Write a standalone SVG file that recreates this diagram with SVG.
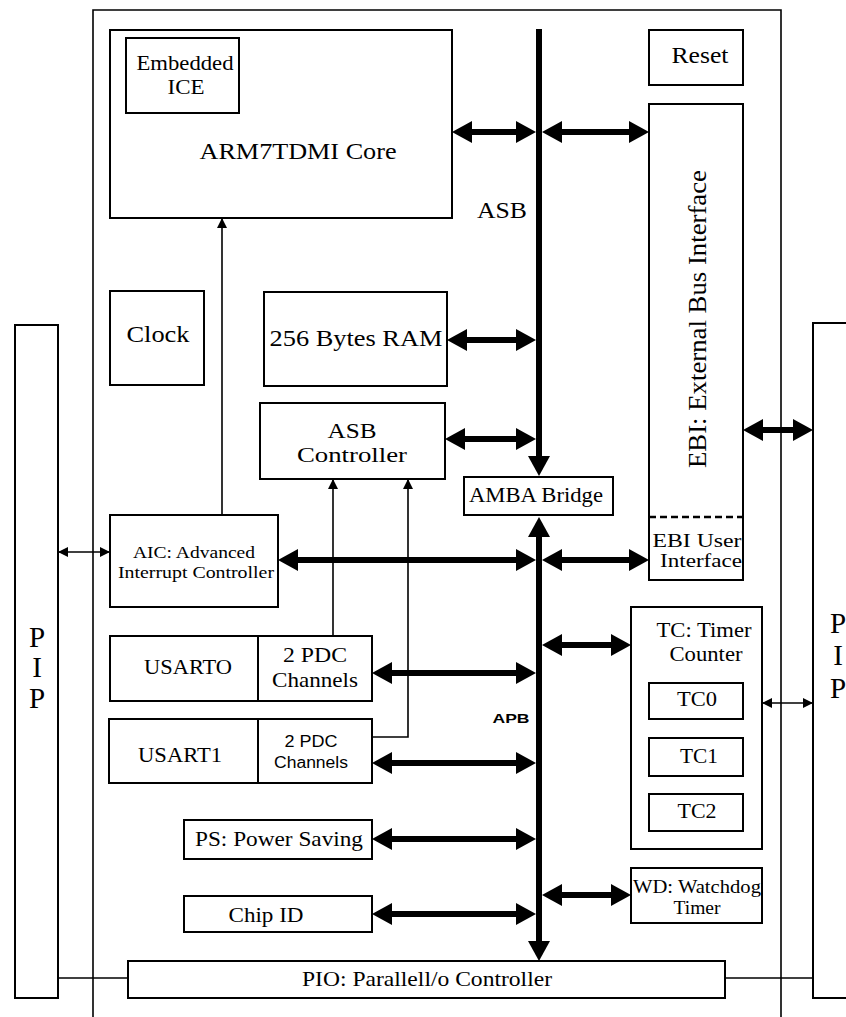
<svg xmlns="http://www.w3.org/2000/svg" width="846" height="1017" viewBox="0 0 846 1017">
<defs>
<style>
.box{fill:#fff;stroke:#000;stroke-width:2}
.t{font-family:"Liberation Serif","Times New Roman",serif;fill:#000;text-anchor:middle}
.s{font-family:"Liberation Sans",Arial,sans-serif;fill:#000;text-anchor:middle}
.thick{stroke:#000;stroke-width:6;fill:none;marker-start:url(#ah);marker-end:url(#ah)}
.bus{stroke:#000;stroke-width:6;fill:none}
.thin{stroke:#000;stroke-width:1.6;fill:none}
</style>
<marker id="ah" markerUnits="userSpaceOnUse" markerWidth="20" markerHeight="22" viewBox="0 0 20 22" refX="8" refY="11" orient="auto-start-reverse">
<path d="M0,0 L20,11 L0,22 z" fill="#000"/>
</marker>
<marker id="sa" markerUnits="userSpaceOnUse" markerWidth="10" markerHeight="10" viewBox="0 0 10 10" refX="9" refY="5" orient="auto-start-reverse">
<path d="M0,0 L10,5 L0,10 z" fill="#000"/>
</marker>
</defs>
<rect width="846" height="1017" fill="#fff"/>

<g id="chip-boundary">
<path d="M93,1017 V10 H781 V1017" class="thin" stroke-width="2"/>
</g>

<g id="connectors">
<line x1="539" y1="29" x2="539" y2="464" class="bus" marker-end="url(#ah)"/>
<line x1="539" y1="529" x2="539" y2="949" class="bus" marker-start="url(#ah)" marker-end="url(#ah)"/>
<line x1="464" y1="132" x2="524" y2="132" class="thick"/>
<line x1="554" y1="132" x2="637" y2="132" class="thick"/>
<line x1="459" y1="340" x2="524" y2="340" class="thick"/>
<line x1="457" y1="439" x2="524" y2="439" class="thick"/>
<line x1="290" y1="560" x2="524" y2="560" class="thick"/>
<line x1="554" y1="560" x2="637" y2="560" class="thick"/>
<line x1="755" y1="430" x2="801" y2="430" class="thick"/>
<line x1="384" y1="673" x2="524" y2="673" class="thick"/>
<line x1="554" y1="645" x2="619" y2="645" class="thick"/>
<line x1="384" y1="763" x2="524" y2="763" class="thick"/>
<line x1="384" y1="839" x2="524" y2="839" class="thick"/>
<line x1="554" y1="895" x2="619" y2="895" class="thick"/>
<line x1="384" y1="914" x2="524" y2="914" class="thick"/>
<line x1="222" y1="515" x2="222" y2="219" class="thin" marker-end="url(#sa)"/>
<line x1="333" y1="635" x2="333" y2="480" class="thin" marker-end="url(#sa)"/>
<polyline points="373,737 408,737 408,480" class="thin" marker-end="url(#sa)"/>
<line x1="59" y1="552" x2="109" y2="552" class="thin" marker-start="url(#sa)" marker-end="url(#sa)"/>
<line x1="763" y1="703" x2="812" y2="703" class="thin" marker-start="url(#sa)" marker-end="url(#sa)"/>
<line x1="58" y1="978" x2="128" y2="978" class="thin"/>
<line x1="725" y1="978" x2="813" y2="978" class="thin"/>
</g>

<g id="arm-core">
<rect x="110" y="30" width="342" height="188" class="box"/>
<text x="298" y="159" class="t" font-size="24" textLength="197" lengthAdjust="spacingAndGlyphs">ARM7TDMI Core</text>
</g>
<g id="embedded-ice">
<rect x="126" y="38" width="113" height="75" class="box"/>
<text x="185" y="70" class="t" font-size="20" textLength="97" lengthAdjust="spacingAndGlyphs">Embedded</text>
<text x="186" y="94" class="t" font-size="20" textLength="37" lengthAdjust="spacingAndGlyphs">ICE</text>
</g>
<g id="asb-label"><text x="502" y="218" class="t" font-size="23" textLength="50" lengthAdjust="spacingAndGlyphs">ASB</text></g>
<g id="reset">
<rect x="649" y="30" width="94" height="55" class="box"/>
<text x="700" y="63" class="t" font-size="23" textLength="57" lengthAdjust="spacingAndGlyphs">Reset</text>
</g>
<g id="ebi">
<rect x="649" y="104" width="94" height="476" class="box"/>
<line x1="649" y1="517" x2="743" y2="517" stroke="#000" stroke-width="2.5" stroke-dasharray="7,4"/>
<text x="706" y="319" class="t" font-size="25" textLength="298" lengthAdjust="spacingAndGlyphs" transform="rotate(-90 706 319)">EBI: External Bus Interface</text>
<text x="697" y="547" class="t" font-size="19" textLength="89" lengthAdjust="spacingAndGlyphs">EBI User</text>
<text x="701" y="567" class="t" font-size="19" textLength="82" lengthAdjust="spacingAndGlyphs">Interface</text>
</g>
<g id="clock">
<rect x="110" y="291" width="94" height="94" class="box"/>
<text x="158" y="342" class="t" font-size="24" textLength="63" lengthAdjust="spacingAndGlyphs">Clock</text>
</g>
<g id="ram">
<rect x="264" y="292" width="183" height="94" class="box"/>
<text x="356" y="346" class="t" font-size="24" textLength="173" lengthAdjust="spacingAndGlyphs">256 Bytes RAM</text>
</g>
<g id="asb-controller">
<rect x="260" y="403" width="185" height="76" class="box"/>
<text x="352" y="438" class="t" font-size="21" textLength="49" lengthAdjust="spacingAndGlyphs">ASB</text>
<text x="352" y="462" class="t" font-size="21" textLength="110" lengthAdjust="spacingAndGlyphs">Controller</text>
</g>
<g id="amba-bridge">
<rect x="464" y="477" width="149" height="38" class="box"/>
<text x="536" y="502" class="t" font-size="20" textLength="134" lengthAdjust="spacingAndGlyphs">AMBA Bridge</text>
</g>
<g id="aic">
<rect x="110" y="515" width="168" height="92" class="box"/>
<text x="194" y="558" class="t" font-size="17" textLength="122" lengthAdjust="spacingAndGlyphs">AIC: Advanced</text>
<text x="196" y="578" class="t" font-size="17" textLength="156" lengthAdjust="spacingAndGlyphs">Interrupt Controller</text>
</g>
<g id="usart0">
<rect x="110" y="636" width="148" height="65" class="box"/>
<text x="188" y="674" class="t" font-size="21" textLength="88" lengthAdjust="spacingAndGlyphs">USARTO</text>
</g>
<g id="pdc0">
<rect x="258" y="636" width="114" height="65" class="box"/>
<text x="315" y="662" class="t" font-size="21" textLength="64" lengthAdjust="spacingAndGlyphs">2 PDC</text>
<text x="315" y="687" class="t" font-size="21" textLength="86" lengthAdjust="spacingAndGlyphs">Channels</text>
</g>
<g id="usart1">
<rect x="109" y="719" width="149" height="64" class="box"/>
<text x="180" y="762" class="t" font-size="21" textLength="84" lengthAdjust="spacingAndGlyphs">USART1</text>
</g>
<g id="pdc1">
<rect x="258" y="719" width="114" height="64" class="box"/>
<text x="311" y="747" class="s" font-size="16" textLength="53" lengthAdjust="spacingAndGlyphs">2 PDC</text>
<text x="311" y="768" class="s" font-size="16" textLength="74" lengthAdjust="spacingAndGlyphs">Channels</text>
</g>
<g id="power-saving">
<rect x="184" y="820" width="188" height="39" class="box"/>
<text x="279" y="846" class="t" font-size="21" textLength="168" lengthAdjust="spacingAndGlyphs">PS: Power Saving</text>
</g>
<g id="chip-id">
<rect x="184" y="896" width="188" height="36" class="box"/>
<text x="266" y="922" class="t" font-size="21" textLength="75" lengthAdjust="spacingAndGlyphs">Chip ID</text>
</g>
<g id="apb-label"><text x="511" y="723" class="s" font-size="13" font-weight="bold" textLength="37" lengthAdjust="spacingAndGlyphs">APB</text></g>
<g id="timer-counter">
<rect x="631" y="607" width="131" height="242" class="box"/>
<text x="704" y="637" class="t" font-size="20" textLength="95" lengthAdjust="spacingAndGlyphs">TC: Timer</text>
<text x="706" y="661" class="t" font-size="20" textLength="73" lengthAdjust="spacingAndGlyphs">Counter</text>
</g>
<g id="tc0">
<rect x="649" y="683" width="94" height="36" class="box"/>
<text x="697" y="706" class="t" font-size="20" textLength="40" lengthAdjust="spacingAndGlyphs">TC0</text>
</g>
<g id="tc1">
<rect x="649" y="738" width="94" height="38" class="box"/>
<text x="699" y="763" class="t" font-size="20" textLength="38" lengthAdjust="spacingAndGlyphs">TC1</text>
</g>
<g id="tc2">
<rect x="649" y="794" width="94" height="37" class="box"/>
<text x="697" y="818" class="t" font-size="20" textLength="39" lengthAdjust="spacingAndGlyphs">TC2</text>
</g>
<g id="watchdog">
<rect x="631" y="868" width="131" height="55" class="box"/>
<text x="697" y="893" class="t" font-size="18" textLength="128" lengthAdjust="spacingAndGlyphs">WD: Watchdog</text>
<text x="697" y="914" class="t" font-size="18" textLength="47" lengthAdjust="spacingAndGlyphs">Timer</text>
</g>
<g id="pio">
<rect x="128" y="961" width="597" height="37" class="box"/>
<text x="427" y="986" class="t" font-size="21" textLength="250" lengthAdjust="spacingAndGlyphs">PIO: Parallell/o Controller</text>
</g>
<g id="pip-left">
<rect x="15" y="325" width="43" height="673" class="box"/>
<text x="37" y="647" class="t" font-size="29">P</text>
<text x="37" y="677" class="t" font-size="29">I</text>
<text x="37" y="708" class="t" font-size="29">P</text>
</g>
<g id="pip-right">
<rect x="813" y="323" width="50" height="675" class="box"/>
<text x="838" y="633" class="t" font-size="29">P</text>
<text x="838" y="665" class="t" font-size="29">I</text>
<text x="838" y="698" class="t" font-size="29">P</text>
</g>
</svg>
